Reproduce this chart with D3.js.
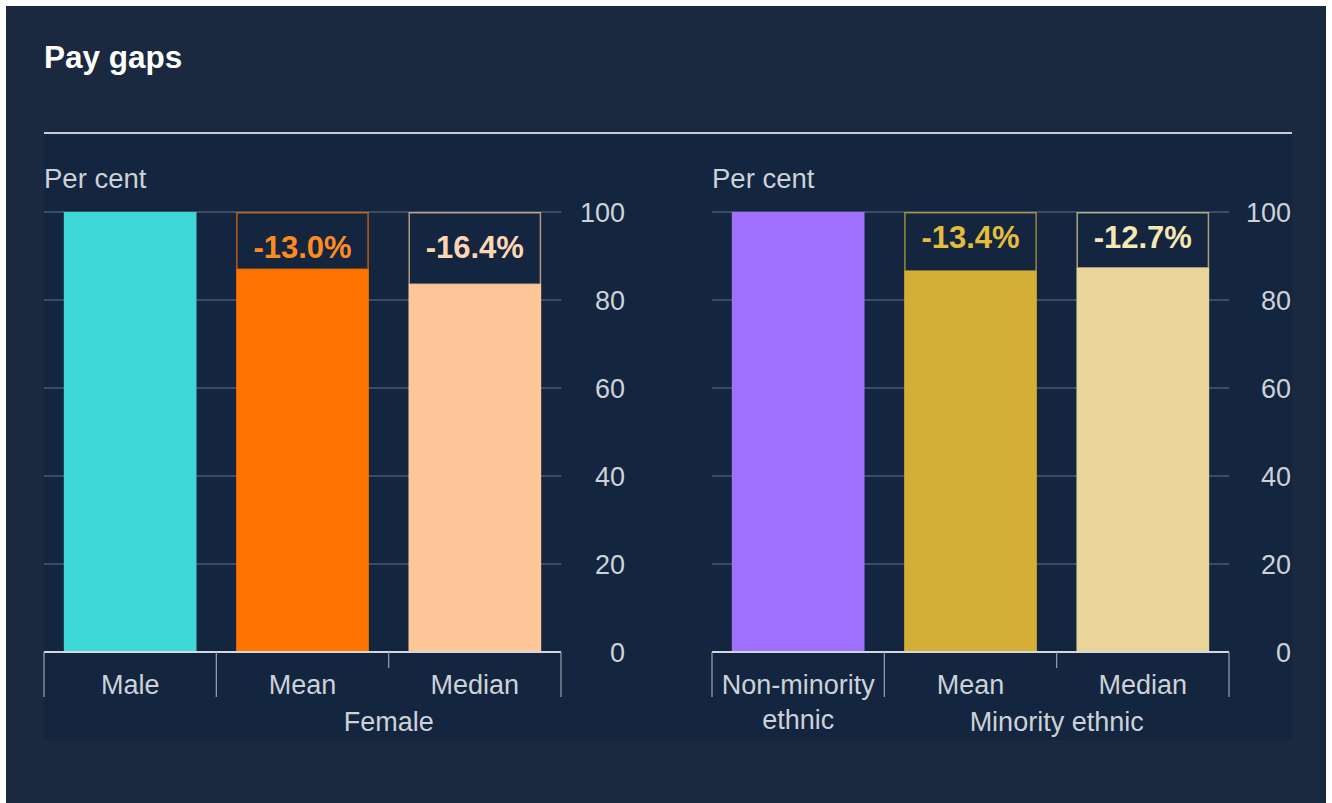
<!DOCTYPE html>
<html>
<head>
<meta charset="utf-8">
<script src="https://cdn.jsdelivr.net/npm/d3@7"></script>
<style>
  html, body { margin: 0; padding: 0; background: #ffffff; }
  svg { display: block; font-family: "Liberation Sans", Arial, sans-serif; }
</style>
</head>
<body>
<svg id="chart" width="1332" height="803"></svg>
<script>
// ---- Data ----
const title = "Pay gaps";
const yAxisTitle = "Per cent";
const yTicks = [0, 20, 40, 60, 80, 100];

const genderCategories = ["Male", "Mean", "Median"];
const genderValues = [100, 87.0, 83.6];
const genderGapLabels = [null, "-13.0%", "-16.4%"];
const genderGroupLabel = "Female";
const genderColors = ["#3ed8d8", "#ff7300", "#ffc69a"];
const genderTextColors = [null, "#ff8b1e", "#ffd6b4"];

const ethnicCategories = ["Non-minority ethnic", "Mean", "Median"];
const ethnicValues = [100, 86.6, 87.3];
const ethnicGapLabels = [null, "-13.4%", "-12.7%"];
const ethnicGroupLabel = "Minority ethnic";
const ethnicColors = ["#a070ff", "#d4af37", "#e9d59a"];
const ethnicTextColors = [null, "#e4bd3d", "#f6e8b4"];

// ---- Drawing ----
const svg = d3.select("#chart");
const textCol = "#cdd2d8";

svg.append("rect").attr("x", 6).attr("y", 6).attr("width", 1320).attr("height", 797).attr("fill", "#1a2940");
svg.append("text").attr("x", 44).attr("y", 68).attr("fill", "#ffffff")
  .attr("font-size", 31.5).attr("font-weight", "bold").text(title);
svg.append("rect").attr("x", 44).attr("y", 134).attr("width", 1248).attr("height", 606).attr("fill", "#13253f");
svg.append("line").attr("x1", 44).attr("x2", 1292).attr("y1", 133).attr("y2", 133)
  .attr("stroke", "#c9ccd0").attr("stroke-width", 2);

function panel(opts) {
  const { x0, x1, axisX, cats, vals, gaps, colors, textColors, group, labelY, lines } = opts;
  const g = svg.append("g");
  const y = d3.scaleLinear().domain([0, 100]).range([652, 212]);
  const xs = d3.scaleBand().domain(cats).range([x0, x1]).paddingInner(0.23).paddingOuter(0.115);
  const xStep = d3.scaleBand().domain(cats).range([x0, x1]).padding(0);

  g.append("text").attr("x", x0).attr("y", 188).attr("fill", textCol).attr("font-size", 27.5).text(yAxisTitle);

  // gridlines
  g.selectAll(".grid").data(yTicks.filter(t => t > 0)).join("line")
    .attr("x1", x0).attr("x2", x1)
    .attr("y1", d => y(d)).attr("y2", d => y(d))
    .attr("stroke", "#4a5a70").attr("stroke-width", 1.5);

  // y axis labels on the right side of the panel
  const ax = g.append("g").attr("transform", `translate(${axisX},0)`)
    .call(d3.axisLeft(y).tickValues(yTicks).tickSize(0).tickPadding(0));
  ax.select(".domain").remove();
  ax.selectAll("text").attr("fill", textCol).attr("font-size", 27).attr("font-family", "Liberation Sans, Arial, sans-serif")
    .attr("dy", "0.36em");

  // bars
  g.selectAll(".bar").data(cats).join("rect")
    .attr("x", d => xs(d)).attr("width", xs.bandwidth())
    .attr("y", (d, i) => y(vals[i])).attr("height", (d, i) => y(0) - y(vals[i]))
    .attr("fill", (d, i) => colors[i]);

  // gap boxes
  const gi = cats.map((d, i) => i).filter(i => gaps[i]);
  g.selectAll(".box").data(gi).join("rect")
    .attr("x", i => xs(cats[i]) + 0.75).attr("width", xs.bandwidth() - 1.5)
    .attr("y", y(100) + 0.75).attr("height", i => y(vals[i]) - y(100) - 0.75)
    .attr("fill", "none").attr("stroke", i => colors[i]).attr("stroke-opacity", 0.7).attr("stroke-width", 1.5);
  g.selectAll(".gap").data(gi).join("text")
    .attr("x", i => xs(cats[i]) + xs.bandwidth() / 2).attr("y", labelY)
    .attr("text-anchor", "middle").attr("font-size", 31).attr("font-weight", "bold")
    .attr("fill", i => textColors[i]).text(i => gaps[i]);

  // x axis
  g.append("line").attr("x1", x0).attr("x2", x1).attr("y1", y(0)).attr("y2", y(0))
    .attr("stroke", "#d4d8dc").attr("stroke-width", 2);
  const seps = [x0, xStep(cats[1]), x1];
  g.selectAll(".sep").data(seps).join("line")
    .attr("x1", d => d).attr("x2", d => d).attr("y1", y(0)).attr("y2", 697)
    .attr("stroke", "#9aa3ad").attr("stroke-width", 1.2);
  g.append("line").attr("x1", xStep(cats[2])).attr("x2", xStep(cats[2])).attr("y1", y(0)).attr("y2", 668)
    .attr("stroke", "#9aa3ad").attr("stroke-width", 1.2);

  cats.forEach((c, i) => {
    const cx = xStep(c) + xStep.bandwidth() / 2;
    const parts = lines[i];
    parts.forEach((p, k) => {
      g.append("text").attr("x", cx).attr("y", 694 + k * 35).attr("text-anchor", "middle")
        .attr("fill", textCol).attr("font-size", 27).text(p);
    });
  });
  g.append("text").attr("x", (xStep(cats[1]) + x1) / 2).attr("y", 731).attr("text-anchor", "middle")
    .attr("fill", textCol).attr("font-size", 27).text(group);
}

panel({ x0: 44, x1: 561, axisX: 625, cats: genderCategories, vals: genderValues, gaps: genderGapLabels,
  colors: genderColors, textColors: genderTextColors, group: genderGroupLabel, labelY: 258,
  lines: [["Male"], ["Mean"], ["Median"]] });
panel({ x0: 712, x1: 1229, axisX: 1291, cats: ethnicCategories, vals: ethnicValues, gaps: ethnicGapLabels,
  colors: ethnicColors, textColors: ethnicTextColors, group: ethnicGroupLabel, labelY: 248,
  lines: [["Non-minority", "ethnic"], ["Mean"], ["Median"]] });
</script>
</body>
</html>
